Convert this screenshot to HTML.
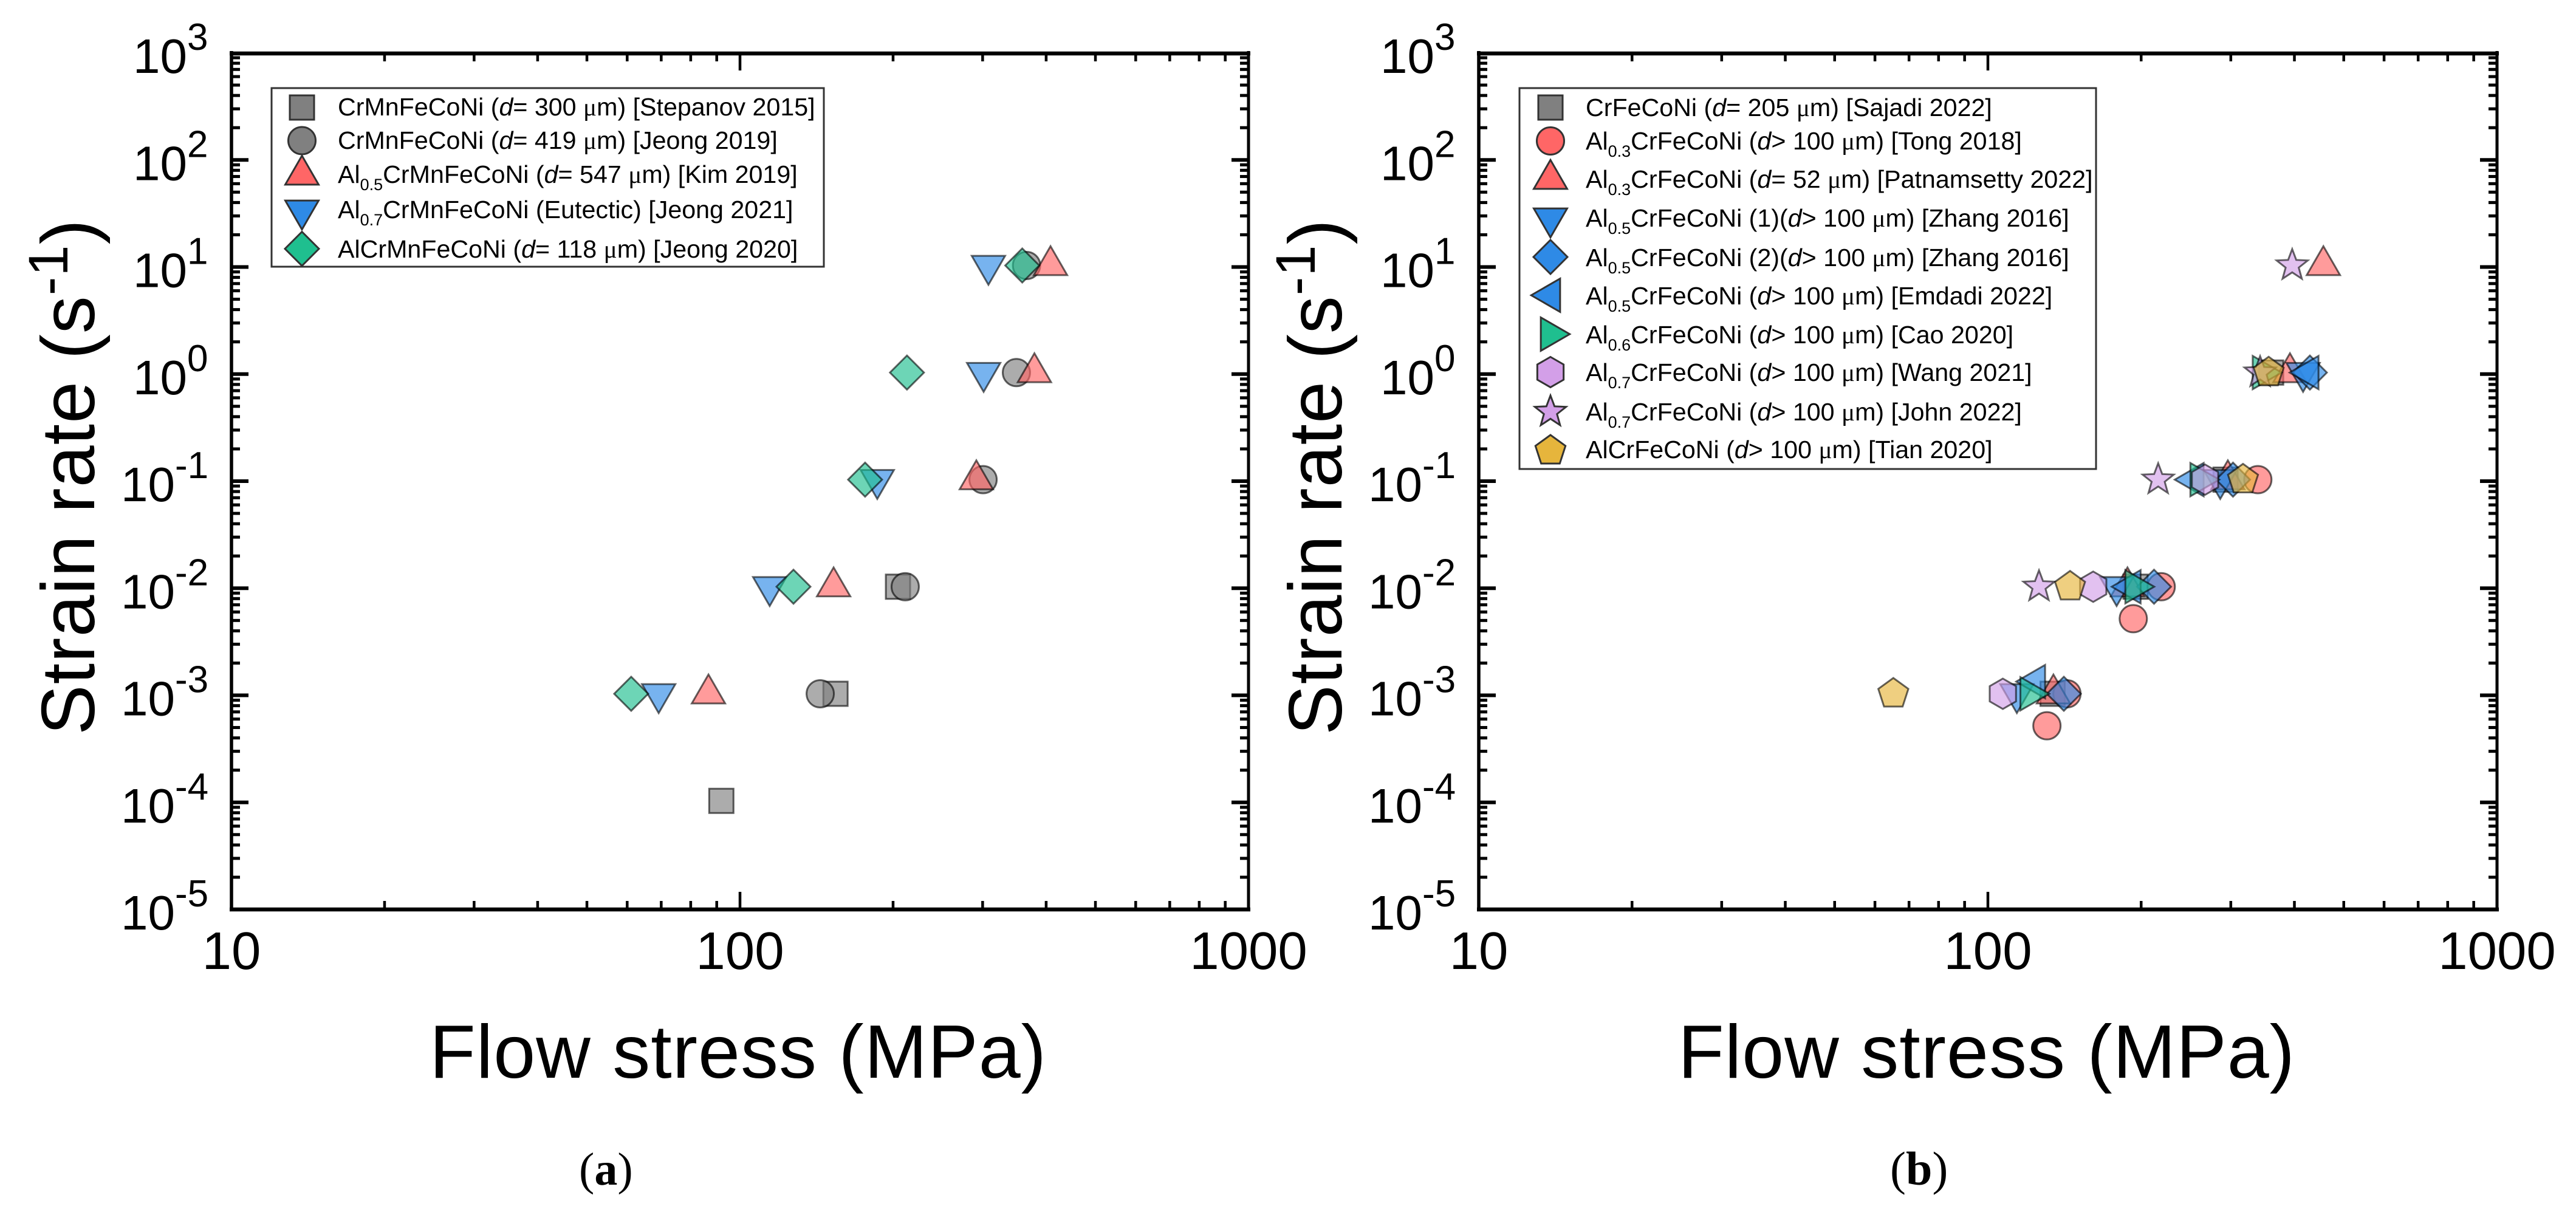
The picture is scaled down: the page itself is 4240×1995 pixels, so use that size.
<!DOCTYPE html>
<html lang="en">
<head>
<meta charset="utf-8">
<title>Strain rate vs flow stress</title>
<style>
html,body{margin:0;padding:0;background:#fff;}
svg{display:block;}
text{font-family:"Liberation Sans",Arial,sans-serif;fill:#000;}
.lg{font-size:41.2px;}
.lg .sub{font-size:27px;}
.lg .mu{font-family:"Liberation Serif",serif;}
.cap{font-family:"Liberation Serif",serif;}
</style>
</head>
<body>
<svg id="chart" xmlns="http://www.w3.org/2000/svg" width="4240" height="1995" viewBox="0 0 4240 1995">
  <rect x="0" y="0" width="4240" height="1995" fill="#fff"/>

  <g id="panel-a"></g>
  <g id="panel-b"></g>

  <text x="707" y="1774" font-size="124" letter-spacing="1">Flow stress (MPa)</text>
  <text x="2762" y="1774" font-size="124" letter-spacing="1">Flow stress (MPa)</text>
  <text transform="translate(155 1210) rotate(-90)" font-size="124" letter-spacing="1">Strain rate (s<tspan font-size="92" dy="-44">-1</tspan><tspan dy="44">)</tspan></text>
  <text transform="translate(2208 1210) rotate(-90)" font-size="124" letter-spacing="1">Strain rate (s<tspan font-size="92" dy="-44">-1</tspan><tspan dy="44">)</tspan></text>

  <text class="cap" x="953" y="1950" font-size="76">(<tspan font-weight="bold">a</tspan>)</text>
  <text class="cap" x="3111" y="1950" font-size="78">(<tspan font-weight="bold">b</tspan>)</text>

  <g id="legend-a">
    <rect x="447" y="145" width="909" height="294" fill="#fff" stroke="#333" stroke-width="3"/>
    <g class="lg">
      <text x="556" y="190">CrMnFeCoNi (<tspan font-style="italic">d</tspan>= 300 <tspan class="mu">μ</tspan>m) [Stepanov 2015]</text>
      <text x="556" y="245">CrMnFeCoNi (<tspan font-style="italic">d</tspan>= 419 <tspan class="mu">μ</tspan>m) [Jeong 2019]</text>
      <text x="556" y="301">Al<tspan class="sub" dy="12">0.5</tspan><tspan dy="-12">CrMnFeCoNi (</tspan><tspan font-style="italic">d</tspan>= 547 <tspan class="mu">μ</tspan>m) [Kim 2019]</text>
      <text x="556" y="359">Al<tspan class="sub" dy="12">0.7</tspan><tspan dy="-12">CrMnFeCoNi (Eutectic) [Jeong 2021]</tspan></text>
      <text x="556" y="424">AlCrMnFeCoNi (<tspan font-style="italic">d</tspan>= 118 <tspan class="mu">μ</tspan>m) [Jeong 2020]</text>
    </g>
  </g>

  <g id="legend-b">
    <rect x="2501" y="145" width="949" height="627" fill="#fff" stroke="#333" stroke-width="3"/>
    <g class="lg">
      <text x="2610" y="191">CrFeCoNi (<tspan font-style="italic">d</tspan>= 205 <tspan class="mu">μ</tspan>m) [Sajadi 2022]</text>
      <text x="2610" y="246">Al<tspan class="sub" dy="12">0.3</tspan><tspan dy="-12">CrFeCoNi (</tspan><tspan font-style="italic">d</tspan>&gt; 100 <tspan class="mu">μ</tspan>m) [Tong 2018]</text>
      <text x="2610" y="309">Al<tspan class="sub" dy="12">0.3</tspan><tspan dy="-12">CrFeCoNi (</tspan><tspan font-style="italic">d</tspan>= 52 <tspan class="mu">μ</tspan>m) [Patnamsetty 2022]</text>
      <text x="2610" y="373">Al<tspan class="sub" dy="12">0.5</tspan><tspan dy="-12">CrFeCoNi (1)(</tspan><tspan font-style="italic">d</tspan>&gt; 100 <tspan class="mu">μ</tspan>m) [Zhang 2016]</text>
      <text x="2610" y="438">Al<tspan class="sub" dy="12">0.5</tspan><tspan dy="-12">CrFeCoNi (2)(</tspan><tspan font-style="italic">d</tspan>&gt; 100 <tspan class="mu">μ</tspan>m) [Zhang 2016]</text>
      <text x="2610" y="501">Al<tspan class="sub" dy="12">0.5</tspan><tspan dy="-12">CrFeCoNi (</tspan><tspan font-style="italic">d</tspan>&gt; 100 <tspan class="mu">μ</tspan>m) [Emdadi 2022]</text>
      <text x="2610" y="565">Al<tspan class="sub" dy="12">0.6</tspan><tspan dy="-12">CrFeCoNi (</tspan><tspan font-style="italic">d</tspan>&gt; 100 <tspan class="mu">μ</tspan>m) [Cao 2020]</text>
      <text x="2610" y="627">Al<tspan class="sub" dy="12">0.7</tspan><tspan dy="-12">CrFeCoNi (</tspan><tspan font-style="italic">d</tspan>&gt; 100 <tspan class="mu">μ</tspan>m) [Wang 2021]</text>
      <text x="2610" y="692">Al<tspan class="sub" dy="12">0.7</tspan><tspan dy="-12">CrFeCoNi (</tspan><tspan font-style="italic">d</tspan>&gt; 100 <tspan class="mu">μ</tspan>m) [John 2022]</text>
      <text x="2610" y="754">AlCrFeCoNi (<tspan font-style="italic">d</tspan>&gt; 100 <tspan class="mu">μ</tspan>m) [Tian 2020]</text>
    </g>
  </g>
</svg>

<script>
// ---- axis tick labels ----
var xTickValues = [10, 100, 1000];
var xTickLabels = ['10', '100', '1000'];
var yTickValues = [1000, 100, 10, 1, 0.1, 0.01, 0.001, 0.0001, 0.00001];
var yTickExponents = ['3', '2', '1', '0', '-1', '-2', '-3', '-4', '-5'];

// ---- panel (a) data: flow stress (MPa) and strain rate (1/s) ----
var aStepanovStress = [91.9, 154.1, 204.5];
var aStepanovRate   = [1e-4, 1e-3, 1e-2];
var aJeong2019Stress = [143.8, 211.3, 300.6, 349.6, 366];
var aJeong2019Rate   = [1e-3, 1e-2, 0.1, 1, 10];
var aKimStress = [86.7, 152.8, 291.6, 379.3, 408];
var aKimRate   = [1e-3, 1e-2, 0.1, 1, 10];
var aJeong2021Stress = [69.2, 114.4, 186.2, 301.4, 308];
var aJeong2021Rate   = [1e-3, 1e-2, 0.1, 1, 10];
var aJeong2020Stress = [61.1, 127.4, 176.2, 213, 359];
var aJeong2020Rate   = [1e-3, 1e-2, 0.1, 1, 10];

// ---- panel (b) data ----
var bSajadiStress = [134, 195, 293, 360];
var bSajadiRate   = [1e-3, 1e-2, 0.1, 1];
var bTongStress = [130.6, 143, 193, 219, 339];
var bTongRate   = [5.03e-4, 1e-3, 5.03e-3, 1e-2, 0.1];
var bPatnamsettyStress = [134.5, 188, 296, 392, 456];
var bPatnamsettyRate   = [1e-3, 1e-2, 0.1, 1, 10];
var bZhang1Stress = [114, 179, 286, 416];
var bZhang1Rate   = [1e-3, 1e-2, 0.1, 1];
var bZhang2Stress = [141, 212, 303, 429];
var bZhang2Rate   = [1e-3, 1e-2, 0.1, 1];
var bEmdadiStress = [124, 191, 254, 427];
var bEmdadiRate   = [1.3e-3, 1e-2, 0.1, 1];
var bCaoStress = [121, 194.5, 261, 346];
var bCaoRate   = [1e-3, 1e-2, 0.1, 1];
var bWangStress = [107, 161, 267];
var bWangRate   = [1e-3, 1e-2, 0.1];
var bJohnStress = [126, 216, 342.5, 396];
var bJohnRate   = [1e-2, 0.1, 1, 10];
var bTianStress = [65.2, 145, 317, 356];
var bTianRate   = [1e-3, 1e-2, 0.1, 1];

var NS = 'http://www.w3.org/2000/svg';
var GRAY = '#808080', RED = '#ff6666', BLUE = '#2e8ae6', GREEN = '#1fbf8f', PURPLE = '#d39fe8', GOLD = '#e6b53c';

function el(tag, parent) {
  var e = document.createElementNS(NS, tag);
  parent.appendChild(e);
  return e;
}

function polyPoints(cx, cy, R, count, startDeg) {
  var pts = [];
  for (var i = 0; i < count; i++) {
    var a = (startDeg + i * 360 / count) * Math.PI / 180;
    pts.push((cx + R * Math.cos(a)).toFixed(2) + ',' + (cy + R * Math.sin(a)).toFixed(2));
  }
  return pts.join(' ');
}

function starPoints(cx, cy, R) {
  var pts = [];
  for (var i = 0; i < 10; i++) {
    var r = i % 2 === 0 ? R : R * 0.42;
    var a = (-90 + i * 36) * Math.PI / 180;
    pts.push((cx + r * Math.cos(a)).toFixed(2) + ',' + (cy + r * Math.sin(a)).toFixed(2));
  }
  return pts.join(' ');
}

function drawMarker(parent, shape, cx, cy, color, opacity, stroke) {
  var m;
  if (shape === 'circle') {
    m = el('circle', parent);
    m.setAttribute('cx', cx);
    m.setAttribute('cy', cy);
    m.setAttribute('r', 22.5);
  } else if (shape === 'square') {
    m = el('rect', parent);
    m.setAttribute('x', cx - 20);
    m.setAttribute('y', cy - 20);
    m.setAttribute('width', 40);
    m.setAttribute('height', 40);
  } else {
    m = el('polygon', parent);
    var pts = '';
    if (shape === 'up') pts = polyPoints(cx, cy, 31.7, 3, -90);
    if (shape === 'down') pts = polyPoints(cx, cy, 31.7, 3, 90);
    if (shape === 'left') pts = polyPoints(cx, cy, 31.7, 3, 180);
    if (shape === 'right') pts = polyPoints(cx, cy, 31.7, 3, 0);
    if (shape === 'diamond') pts = polyPoints(cx, cy, 28, 4, 0);
    if (shape === 'hexagon') pts = polyPoints(cx, cy, 25, 6, -90);
    if (shape === 'pentagon') pts = polyPoints(cx, cy, 26, 5, -90);
    if (shape === 'star') pts = starPoints(cx, cy, 27);
    m.setAttribute('points', pts);
  }
  m.setAttribute('fill', color);
  m.setAttribute('fill-opacity', opacity);
  m.setAttribute('stroke', stroke);
  m.setAttribute('stroke-width', 3);
  m.setAttribute('stroke-linejoin', 'miter');
  return m;
}

function drawPanel(group, left, right, suffix, seriesList) {
  var top = 87, bottom = 1497;
  var markerShift = -2.5;
  function xScale(v) { return left + (Math.log10(v) - 1) / 2 * (right - left); }
  function yScale(v) { return top + (3 - Math.log10(v)) / 8 * (bottom - top); }

  function tickLine(name, x1, y1, x2, y2, w) {
    var l = el('line', group);
    
    
    l.setAttribute('x1', x1);
    l.setAttribute('y1', y1);
    l.setAttribute('x2', x2);
    l.setAttribute('y2', y2);
    l.setAttribute('stroke', '#000');
    l.setAttribute('stroke-width', w);
  }

  // minor + major ticks, x axis
  for (var d = 10; d < 1000; d *= 10) {
    for (var k = 1; k < 10; k++) {
      var xv = d * k;
      var px = xScale(xv);
      var len = k === 1 ? 29 : 14;
      tickLine('x-tick-bottom-' + suffix, px, bottom, px, bottom - len, 4.5);
      tickLine('x-tick-top-' + suffix, px, top, px, top + len, 4.5);
    }
  }
  // minor + major ticks, y axis
  for (var e = -5; e < 3; e++) {
    for (var j = 1; j < 10; j++) {
      var yv = Math.pow(10, e) * j;
      var py = yScale(yv);
      var ylen = j === 1 ? 28 : 14;
      var yw = j === 1 ? 6 : 5;
      tickLine('y-tick-left-' + suffix, left, py, left + ylen, py, yw);
      tickLine('y-tick-right-' + suffix, right, py, right - ylen, py, yw);
    }
  }
  // frame
  tickLine('axis-left-' + suffix, left, top - 3, left, bottom + 3, 5.5);
  tickLine('axis-right-' + suffix, right, top - 3, right, bottom + 3, 5);
  tickLine('axis-top-' + suffix, left - 3, top + 1, right + 3, top + 1, 6.5);
  tickLine('axis-bottom-' + suffix, left - 3, bottom, right + 3, bottom, 6.5);

  // x tick labels
  xTickValues.forEach(function (v, i) {
    var t = el('text', group);
    
    
    t.setAttribute('x', xScale(v));
    t.setAttribute('y', 1595);
    t.setAttribute('font-size', 87);
    t.setAttribute('text-anchor', 'middle');
    t.textContent = xTickLabels[i];
  });

  // y tick labels
  yTickValues.forEach(function (v, i) {
    var ex = yTickExponents[i];
    var t = el('text', group);
    
    
    t.setAttribute('x', left - (ex.charAt(0) === '-' ? 182 : 162));
    t.setAttribute('y', yScale(v) + 33);
    t.setAttribute('font-size', 80);
    t.textContent = '10';
    var s = el('tspan', t);
    s.setAttribute('font-size', 62);
    s.setAttribute('dy', -38);
    s.textContent = ex;
  });

  // series marks
  seriesList.forEach(function (s) {
    var g = el('g', group);
    
    
    s.stress.forEach(function (v, i) {
      var m = drawMarker(g, s.shape, xScale(v), yScale(s.rate[i]) + markerShift, s.color, 0.65, 'rgba(0,0,0,0.6)');
      
      
    });
  });
}

drawPanel(document.getElementById('panel-a'), 381, 2055, 'a', [
  {name: 'series-stepanov-2015', shape: 'square', color: GRAY, stress: aStepanovStress, rate: aStepanovRate},
  {name: 'series-jeong-2019', shape: 'circle', color: GRAY, stress: aJeong2019Stress, rate: aJeong2019Rate},
  {name: 'series-kim-2019', shape: 'up', color: RED, stress: aKimStress, rate: aKimRate},
  {name: 'series-jeong-2021', shape: 'down', color: BLUE, stress: aJeong2021Stress, rate: aJeong2021Rate},
  {name: 'series-jeong-2020', shape: 'diamond', color: GREEN, stress: aJeong2020Stress, rate: aJeong2020Rate}
]);

drawPanel(document.getElementById('panel-b'), 2434, 4110, 'b', [
  {name: 'series-sajadi-2022', shape: 'square', color: GRAY, stress: bSajadiStress, rate: bSajadiRate},
  {name: 'series-tong-2018', shape: 'circle', color: RED, stress: bTongStress, rate: bTongRate},
  {name: 'series-patnamsetty-2022', shape: 'up', color: RED, stress: bPatnamsettyStress, rate: bPatnamsettyRate},
  {name: 'series-zhang-2016-1', shape: 'down', color: BLUE, stress: bZhang1Stress, rate: bZhang1Rate},
  {name: 'series-zhang-2016-2', shape: 'diamond', color: BLUE, stress: bZhang2Stress, rate: bZhang2Rate},
  {name: 'series-emdadi-2022', shape: 'left', color: BLUE, stress: bEmdadiStress, rate: bEmdadiRate},
  {name: 'series-cao-2020', shape: 'right', color: GREEN, stress: bCaoStress, rate: bCaoRate},
  {name: 'series-wang-2021', shape: 'hexagon', color: PURPLE, stress: bWangStress, rate: bWangRate},
  {name: 'series-john-2022', shape: 'star', color: PURPLE, stress: bJohnStress, rate: bJohnRate},
  {name: 'series-tian-2020', shape: 'pentagon', color: GOLD, stress: bTianStress, rate: bTianRate}
]);

// legend swatches
function legendMarker(groupId, shape, cx, cy, color) {
  var m = drawMarker(document.getElementById(groupId), shape, cx, cy, color, 1, '#333');
  
  
}

legendMarker('legend-a', 'square', 497, 177, GRAY);
legendMarker('legend-a', 'circle', 497, 231.5, GRAY);
legendMarker('legend-a', 'up', 497, 288, RED);
legendMarker('legend-a', 'down', 497, 346, BLUE);
legendMarker('legend-a', 'diamond', 497, 409.5, GREEN);

legendMarker('legend-b', 'square', 2552, 177, GRAY);
legendMarker('legend-b', 'circle', 2552, 232, RED);
legendMarker('legend-b', 'up', 2552, 295, RED);
legendMarker('legend-b', 'down', 2552, 359, BLUE);
legendMarker('legend-b', 'diamond', 2552, 423, BLUE);
legendMarker('legend-b', 'left', 2552, 486, BLUE);
legendMarker('legend-b', 'right', 2552, 550, GREEN);
legendMarker('legend-b', 'hexagon', 2552, 612.5, PURPLE);
legendMarker('legend-b', 'star', 2552, 678, PURPLE);
legendMarker('legend-b', 'pentagon', 2552, 742, GOLD);
</script>
</body>
</html>
